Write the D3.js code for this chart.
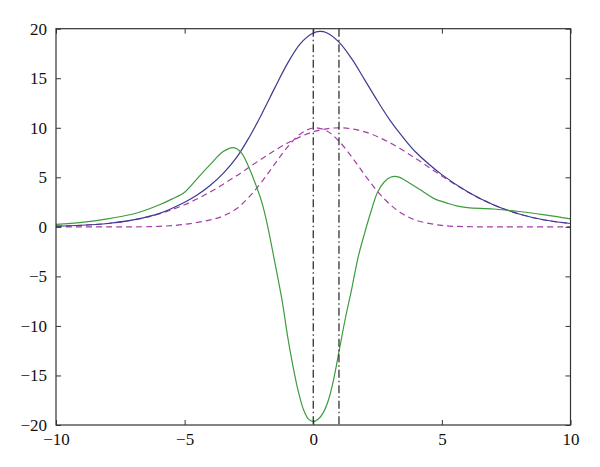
<!DOCTYPE html>
<html>
<head>
<meta charset="utf-8">
<script src="https://cdn.jsdelivr.net/npm/d3@7"></script>
<style>
  body { margin: 0; background: #fff; }
  text { font-family: "Liberation Serif", "DejaVu Serif", serif; }
</style>
</head>
<body>
<div id="graph"></div>
<script>
// chart values
var xTicks = [-10, -5, 0, 5, 10];
var yTicks = [-20, -15, -10, -5, 0, 5, 10, 15, 20];
var markLines = [0, 1];

var sumX = [-10, -9, -8, -7, -6, -5, -4.5, -4, -3.5, -3, -2.5, -2, -1.5, -1, -0.5, 0, 0.25, 0.5, 1, 1.5, 2, 2.5, 3, 3.5, 4, 5, 6, 7, 8, 9, 10];
var sumY = [0.07, 0.16, 0.34, 0.7, 1.33, 2.48, 3.24, 4.2, 5.4, 6.93, 9.0, 11.4, 14.0, 16.5, 18.5, 19.57, 19.73, 19.62, 18.65, 16.95, 14.84, 12.7, 10.7, 9.0, 7.5, 5.27, 3.55, 2.23, 1.3, 0.69, 0.34];

var wideX = [-10, -9, -8, -7, -6, -5, -4, -3, -2, -1, 0, 1, 2, 3, 4, 5, 6, 7, 8, 9, 10];
var wideY = [0.065, 0.155, 0.34, 0.69, 1.3, 2.23, 3.53, 5.13, 6.87, 8.46, 9.59, 10, 9.59, 8.46, 6.87, 5.13, 3.53, 2.23, 1.3, 0.69, 0.34];

var narrowX = [-10, -7, -6, -5, -4, -3.5, -3, -2.5, -2, -1.5, -1, -0.5, 0, 0.5, 1, 1.5, 2, 2.5, 3, 3.5, 4, 5, 6, 7, 10];
var narrowY = [0, 0, 0.05, 0.25, 0.7, 1.1, 1.8, 3.0, 4.55, 6.33, 8.06, 9.38, 9.98, 9.72, 8.65, 7.05, 5.25, 3.57, 2.23, 1.27, 0.66, 0.14, 0.02, 0, 0];

var diffX = [-10, -9, -8, -7, -6.5, -6, -5.5, -5, -4.5, -4, -3.5, -3.1, -2.8, -2.5, -2.2, -2, -1.8, -1.5, -1.2, -1, -0.8, -0.6, -0.4, -0.2, 0, 0.2, 0.4, 0.6, 0.8, 1, 1.25, 1.5, 1.75, 2, 2.25, 2.5, 2.75, 3, 3.3, 3.75, 4.25, 4.7, 5.2, 5.6, 6, 7, 8, 9, 10];
var diffY = [0.25, 0.45, 0.8, 1.3, 1.7, 2.2, 2.8, 3.5, 4.9, 6.3, 7.6, 8.0, 7.5, 6.0, 4.0, 2.5, 0.4, -3.5, -7.6, -11.0, -13.9, -16.4, -18.3, -19.35, -19.65, -19.4, -18.7, -17.4, -15.3, -12.6, -9.2, -6.2, -3.0, -0.6, 1.6, 3.5, 4.5, 5.0, 5.05, 4.4, 3.6, 2.85, 2.4, 2.1, 1.95, 1.8, 1.55, 1.2, 0.8];

var w = 600, h = 467;
var padL = 56, padR = 570.5, padT = 28.7, padB = 425;

var svg = d3.select("#graph").append("svg")
    .attr("width", w).attr("height", h);

var x = d3.scaleLinear().domain([-10, 10]).range([padL, padR]);
var y = d3.scaleLinear().domain([-20, 20]).range([padB, padT]);

var fmt = d => d < 0 ? "\u2212" + Math.abs(d) : "" + d;

// curves
var line = d3.line().x(d => x(d[0])).y(d => y(d[1])).curve(d3.curveCatmullRom.alpha(0.5));
var zip = (a, b) => a.map((v, i) => [v, b[i]]);

svg.append("path").datum(zip(wideX, wideY))
   .attr("d", line).attr("fill", "none")
   .attr("stroke", "#a23fa6").attr("stroke-width", 1.2)
   .attr("stroke-dasharray", "6,4");

svg.append("path").datum(zip(narrowX, narrowY))
   .attr("d", line).attr("fill", "none")
   .attr("stroke", "#a23fa6").attr("stroke-width", 1.2)
   .attr("stroke-dasharray", "6,4");

svg.append("path").datum(zip(sumX, sumY))
   .attr("d", line).attr("fill", "none")
   .attr("stroke", "#3b3a8f").attr("stroke-width", 1.2);

svg.append("path").datum(zip(diffX, diffY))
   .attr("d", line).attr("fill", "none")
   .attr("stroke", "#3d9c3d").attr("stroke-width", 1.2);

// dash-dot markers
svg.selectAll("line.mark")
   .data(markLines)
   .enter()
   .append("line")
   .attr("class", "mark")
   .attr("x1", d => x(d)).attr("x2", d => x(d))
   .attr("y1", y(20)).attr("y2", y(-20))
   .attr("stroke", "#222").attr("stroke-width", 1.2)
   .attr("stroke-dasharray", "8,3,1.5,3");

// axes, ticks inward on all four sides
var axB = d3.axisBottom(x).tickValues(xTicks).tickSize(-5).tickPadding(8).tickFormat(fmt);
var axT = d3.axisTop(x).tickValues(xTicks).tickSize(-5).tickFormat("");
var axL = d3.axisLeft(y).tickValues(yTicks).tickSize(-5).tickPadding(9).tickFormat(fmt);
var axR = d3.axisRight(y).tickValues(yTicks).tickSize(-5).tickFormat("");

function style(g) {
  g.select(".domain").remove();
  g.selectAll(".tick line").attr("stroke", "#333");
  g.selectAll("text").attr("font-size", 17).attr("fill", "#111")
   .attr("font-family", "'Liberation Serif', serif");
}

svg.append("g").attr("transform", `translate(0,${padB})`).call(axB).call(style);
svg.append("g").attr("transform", `translate(0,${padT})`).call(axT).call(style);
svg.append("g").attr("transform", `translate(${padL},0)`).call(axL).call(style);
svg.append("g").attr("transform", `translate(${padR},0)`).call(axR).call(style);

svg.append("rect")
   .attr("x", padL).attr("y", padT)
   .attr("width", padR - padL).attr("height", padB - padT)
   .attr("fill", "none").attr("stroke", "#333").attr("stroke-width", 1.2);
</script>
</body>
</html>
